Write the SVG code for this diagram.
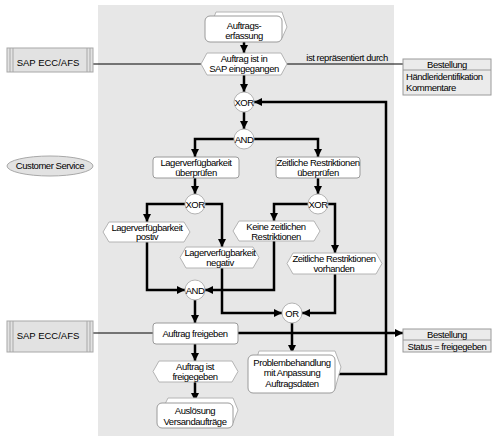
<svg xmlns="http://www.w3.org/2000/svg" width="501" height="440" viewBox="0 0 501 440">
<defs>
<marker id="arr" markerUnits="userSpaceOnUse" markerWidth="9" markerHeight="9" refX="8" refY="4" orient="auto">
<path d="M0,0 L8,4 L0,8 z" fill="#000"/>
</marker>
<style>
text{font-family:"Liberation Sans",Arial,sans-serif;font-size:9.5px;letter-spacing:-0.45px;fill:#000}
.c{text-anchor:middle}
.fn{fill:#fff;stroke:#9a9a9a;stroke-width:1}
.ev{fill:#fff;stroke:#b4b4b4;stroke-width:1}
.gw{fill:#fff;stroke:#b4b4b4;stroke-width:1}
.sys{fill:#e2e2e2;stroke:#a8a8a8;stroke-width:1}
.obj{fill:#ebebeb;stroke:#9a9a9a;stroke-width:1}
.flow{fill:none;stroke:#000;stroke-width:2.5}
.assoc{fill:none;stroke:#000;stroke-width:1}
</style>
</defs>
<rect x="98" y="5" width="296" height="431" fill="#e7e7e7"/>

<g id="connectors">
<path class="assoc" d="M93,64 H201"/>
<path class="assoc" d="M287,64 H403"/>
<text x="347" y="61" class="c">ist repräsentiert durch</text>
<path class="assoc" d="M93,333 H153"/>
<path class="flow" d="M244,42 V53" marker-end="url(#arr)"/>
<path class="flow" d="M244,75 V92" marker-end="url(#arr)"/>
<path class="flow" d="M244,112 V129" marker-end="url(#arr)"/>
<path class="flow" d="M234,139 H195 V157" marker-end="url(#arr)"/>
<path class="flow" d="M254,139 H318 V157" marker-end="url(#arr)"/>
<path class="flow" d="M195,178 V194" marker-end="url(#arr)"/>
<path class="flow" d="M318,178 V194" marker-end="url(#arr)"/>
<path class="flow" d="M185,204 H147 V222" marker-end="url(#arr)"/>
<path class="flow" d="M205,204 H222 V247" marker-end="url(#arr)"/>
<path class="flow" d="M308,204 H274 V221" marker-end="url(#arr)"/>
<path class="flow" d="M328,204 H335 V253" marker-end="url(#arr)"/>
<path class="flow" d="M147,242 V290 H185" marker-end="url(#arr)"/>
<path class="flow" d="M274,241 V290 H205" marker-end="url(#arr)"/>
<path class="flow" d="M222,268 V313 H282" marker-end="url(#arr)"/>
<path class="flow" d="M335,274 V313 H302" marker-end="url(#arr)"/>
<path class="flow" d="M195,300 V323" marker-end="url(#arr)"/>
<path class="flow" d="M292,323 V353" marker-end="url(#arr)"/>
<path class="flow" d="M335,374 H386 V102 H254" marker-end="url(#arr)"/>
<path class="flow" d="M238,333 H403" marker-end="url(#arr)"/>
<path class="flow" d="M195,344 V361" marker-end="url(#arr)"/>
<path class="flow" d="M195,382 V401" marker-end="url(#arr)"/>
</g>

<g id="sap1">
<rect class="sys" x="7" y="48" width="86" height="24"/>
<path d="M10,48 V72 M13,48 V72 M87,48 V72 M90,48 V72" stroke="#a8a8a8" stroke-width="1"/>
<text x="48" y="65.5" class="c" style="letter-spacing:0">SAP ECC/AFS</text>
</g>

<g id="customer-service">
<ellipse cx="50" cy="166" rx="43" ry="10" fill="#e2e2e2" stroke="#a8a8a8"/>
<text x="50" y="169" class="c">Customer Service</text>
</g>

<g id="sap2">
<rect class="sys" x="7" y="321" width="86" height="31"/>
<path d="M10,321 V352 M13,321 V352 M87,321 V352 M90,321 V352" stroke="#a8a8a8" stroke-width="1"/>
<text x="48" y="339" class="c" style="letter-spacing:0">SAP ECC/AFS</text>
</g>

<g id="auftragserfassung">
<polygon class="ev" points="210,27 216,12 282,12 287,27 282,38 216,38"/>
<rect class="fn" x="205" y="16" width="77" height="26" rx="5"/>
<text x="244" y="28.5" class="c">Auftrags-</text>
<text x="244" y="38.5" class="c">erfassung</text>
</g>

<g id="ev-eingegangen">
<polygon class="ev" points="201,64 207,53 281,53 287,64 281,75 207,75"/>
<text x="244" y="62" class="c">Auftrag ist in</text>
<text x="244" y="72" class="c">SAP eingegangen</text>
</g>

<g id="bestellung1">
<rect class="obj" x="403" y="59" width="88" height="36"/>
<line x1="403" y1="70" x2="491" y2="70" stroke="#9a9a9a"/>
<text x="447" y="68" class="c">Bestellung</text>
<text x="406" y="80">Händleridentifikation</text>
<text x="406" y="91">Kommentare</text>
</g>

<g id="xor1">
<circle class="gw" cx="244" cy="102" r="10"/>
<text x="244" y="105.5" class="c">XOR</text>
</g>

<g id="and1">
<circle class="gw" cx="244" cy="139" r="10"/>
<text x="244" y="142.5" class="c">AND</text>
</g>

<g id="fn-lager">
<rect class="fn" x="153" y="157" width="86" height="21" rx="3"/>
<text x="196" y="166" class="c">Lagerverfügbarkeit</text>
<text x="196" y="176" class="c">überprüfen</text>
</g>

<g id="fn-zeit">
<rect class="fn" x="276" y="157" width="84" height="21" rx="3"/>
<text x="318" y="166" class="c">Zeitliche Restriktionen</text>
<text x="318" y="176" class="c">überprüfen</text>
</g>

<g id="xor2">
<circle class="gw" cx="195" cy="204" r="10"/>
<text x="195" y="207.5" class="c">XOR</text>
</g>

<g id="xor3">
<circle class="gw" cx="318" cy="204" r="10"/>
<text x="318" y="207.5" class="c">XOR</text>
</g>

<g id="ev-positiv">
<polygon class="ev" points="103,232 109,222 184,222 190,232 184,242 109,242"/>
<text x="147" y="230.5" class="c">Lagerverfügbarkeit</text>
<text x="147" y="240" class="c">postiv</text>
</g>

<g id="ev-negativ">
<polygon class="ev" points="180,257.5 186,247 253,247 259,257.5 253,268 186,268"/>
<text x="220" y="256" class="c">Lagerverfügbarkeit</text>
<text x="220" y="266" class="c">negativ</text>
</g>

<g id="ev-keine">
<polygon class="ev" points="233,231 239,221 314,221 320,231 314,241 239,241"/>
<text x="276" y="229.5" class="c">Keine zeitlichen</text>
<text x="276" y="239.5" class="c">Restriktionen</text>
</g>

<g id="ev-vorhanden">
<polygon class="ev" points="287,263.5 293,253 376,253 382,263.5 376,274 293,274"/>
<text x="334" y="262" class="c">Zeitliche Restriktionen</text>
<text x="334" y="272" class="c">vorhanden</text>
</g>

<g id="and2">
<circle class="gw" cx="195" cy="290" r="10"/>
<text x="195" y="293.5" class="c">AND</text>
</g>

<g id="or1">
<circle class="gw" cx="292" cy="313" r="10"/>
<text x="292" y="316.5" class="c">OR</text>
</g>

<g id="fn-freigeben">
<rect class="fn" x="153" y="323" width="85" height="21" rx="3"/>
<text x="195" y="337" class="c">Auftrag freigeben</text>
</g>

<g id="bestellung2">
<rect class="obj" x="403" y="329" width="88" height="23"/>
<line x1="403" y1="340" x2="491" y2="340" stroke="#9a9a9a"/>
<text x="447" y="338" class="c">Bestellung</text>
<text x="447" y="349.5" class="c">Status = freigegeben</text>
</g>

<g id="ev-freigegeben">
<polygon class="ev" points="153,371.5 159,361 232,361 238,371.5 232,382 159,382"/>
<text x="195" y="370" class="c">Auftrag ist</text>
<text x="195" y="380" class="c">freigegeben</text>
</g>

<g id="problembehandlung">
<polygon class="ev" points="253,370 259,351 335,351 341,367 335,389 259,389"/>
<rect class="fn" x="248" y="355" width="87" height="38" rx="5"/>
<text x="292" y="366" class="c">Problembehandlung</text>
<text x="292" y="376" class="c">mit Anpassung</text>
<text x="292" y="387" class="c">Auftragsdaten</text>
</g>

<g id="auslosung">
<polygon class="ev" points="162,410 168,398 233,398 238,410 233,423 168,423"/>
<rect class="fn" x="157" y="403" width="76" height="25" rx="5"/>
<text x="195" y="414" class="c">Auslösung</text>
<text x="195" y="425" class="c">Versandaufträge</text>
</g>
</svg>
